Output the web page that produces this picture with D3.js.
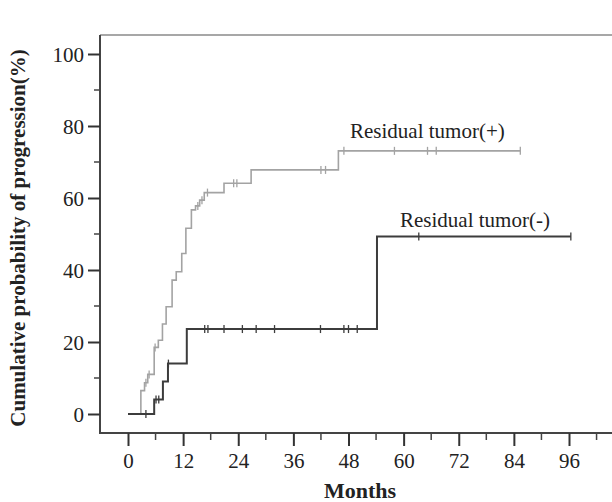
<!DOCTYPE html>
<html>
<head>
<meta charset="utf-8">
<script src="https://cdn.jsdelivr.net/npm/d3@7"></script>
<style>
    body { margin: 0; background: #fff; }
    text { font-family: "Liberation Serif", "Times New Roman", serif; fill: #222; }
</style>
</head>
<body>
<script>
// step curves: months, cumulative %
const posTimes = [0, 2.8, 3.6, 4.3, 5.7, 6.6, 7.5, 8.3, 9.6, 10.5, 11.7, 12.6, 13.8, 14.7, 15.6, 16.6, 20.9, 26.8, 45.8, 85.4];
const posProb  = [0, 6.5, 8.7, 11, 18.5, 20.5, 25, 29.8, 37.2, 39.5, 44.6, 51.6, 56.7, 57.8, 59.4, 61.5, 64.1, 67.8, 73.1, 73.1];
const posCensored = [3.9, 4.6, 5.9, 15.2, 16.1, 17.3, 23.0, 23.7, 42.0, 43.0, 47.0, 58.0, 65.2, 67.1, 85.4];

const negTimes = [0, 5.7, 7.6, 8.7, 12.8, 54.2, 96.4];
const negProb  = [0, 4, 9, 14, 23.6, 49.3, 49.3];
const negCensored = [3.9, 6.1, 6.7, 8.8, 16.7, 17.4, 20.9, 24.9, 27.9, 31.9, 41.9, 47.0, 48.0, 49.9, 63.3, 96.4];

const xTicks = [0, 12, 24, 36, 48, 60, 72, 84, 96];
const xMinorTicks = [6, 18, 30, 42, 54, 66, 78, 90, 102];
const yTicks = [0, 20, 40, 60, 80, 100];
const yMinorTicks = [10, 30, 50, 70, 90];

const width = 612,
    height = 502,
    frameLeft = 100,
    frameTop = 35,
    frameBottom = 433;

let x = d3.scaleLinear().domain([0, 96]).range([128, 569]);
let y = d3.scaleLinear().domain([0, 100]).range([414, 54]);

let svg = d3.select("body").append("svg")
    .attr("width", width)
    .attr("height", height);

// frame
svg.append("line")
    .attr("x1", frameLeft).attr("x2", width)
    .attr("y1", frameTop).attr("y2", frameTop)
    .attr("stroke", "#8a8a8a").attr("stroke-width", 1.5);

// y axis
let yAxis = svg.append("g").attr("transform", "translate(" + frameLeft + ",0)");
yAxis.append("line")
    .attr("y1", frameTop).attr("y2", frameBottom + 1)
    .attr("stroke", "#444").attr("stroke-width", 2);
yAxis.call(d3.axisLeft(y).tickValues(yTicks).tickSize(12).tickPadding(4).tickFormat(d3.format("d")));
yAxis.selectAll(".domain").remove();
yAxis.selectAll(".tick line").attr("stroke", "#333").attr("stroke-width", 2);
yAxis.selectAll(".tick text").style("font-size", "21px").attr("dy", "0.34em");
yAxis.selectAll(".minor")
    .data(yMinorTicks)
    .enter().append("line")
    .attr("class", "minor")
    .attr("x1", -6).attr("x2", 0)
    .attr("y1", function (d) { return y(d); })
    .attr("y2", function (d) { return y(d); })
    .attr("stroke", "#444").attr("stroke-width", 1.5);

// x axis
let xAxis = svg.append("g").attr("transform", "translate(0," + frameBottom + ")");
xAxis.append("line")
    .attr("x1", frameLeft - 1).attr("x2", width)
    .attr("stroke", "#444").attr("stroke-width", 2);
xAxis.call(d3.axisBottom(x).tickValues(xTicks).tickSize(13).tickPadding(7));
xAxis.selectAll(".domain").remove();
xAxis.selectAll(".tick line").attr("stroke", "#333").attr("stroke-width", 2);
xAxis.selectAll(".tick text").style("font-size", "21px");
xAxis.selectAll(".minor")
    .data(xMinorTicks)
    .enter().append("line")
    .attr("class", "minor")
    .attr("x1", function (d) { return x(d); })
    .attr("x2", function (d) { return x(d); })
    .attr("y1", 0).attr("y2", 7)
    .attr("stroke", "#444").attr("stroke-width", 1.5);

// axis titles
svg.append("text")
    .attr("x", 360).attr("y", 498)
    .attr("text-anchor", "middle")
    .style("font-size", "22px").style("font-weight", "bold")
    .text("Months");

svg.append("text")
    .attr("transform", "translate(25,238)rotate(-90)")
    .attr("text-anchor", "middle")
    .style("font-size", "21px").style("font-weight", "bold")
    .text("Cumulative probability of progression(%)");

// curves
let line = d3.line()
    .curve(d3.curveStepAfter)
    .x(function (d) { return x(d[0]); })
    .y(function (d) { return y(d[1]); });

function stepValue(times, probs, t) {
    let v = probs[0];
    times.forEach(function (tt, i) { if (tt <= t) v = probs[i]; });
    return v;
}

function drawGroup(times, probs, censored, color, strokeWidth) {
    let g = svg.append("g");
    g.append("path")
        .datum(d3.zip(times, probs))
        .attr("fill", "none")
        .attr("stroke", color)
        .attr("stroke-width", strokeWidth)
        .attr("d", line);
    g.selectAll(".censor")
        .data(censored)
        .enter().append("line")
        .attr("class", "censor")
        .attr("x1", function (d) { return x(d); })
        .attr("x2", function (d) { return x(d); })
        .attr("y1", function (d) { return y(stepValue(times, probs, d)) - 4; })
        .attr("y2", function (d) { return y(stepValue(times, probs, d)) + 4; })
        .attr("stroke", color)
        .attr("stroke-width", 1.3);
}

drawGroup(posTimes, posProb, posCensored, "#a3a3a3", 1.6);
drawGroup(negTimes, negProb, negCensored, "#3c3c3c", 2);

// curve labels
svg.append("text")
    .attr("x", 350).attr("y", 138)
    .style("font-size", "21px")
    .text("Residual tumor(+)");

svg.append("text")
    .attr("x", 400).attr("y", 227)
    .style("font-size", "21px")
    .text("Residual tumor(-)");
</script>
</body>
</html>
